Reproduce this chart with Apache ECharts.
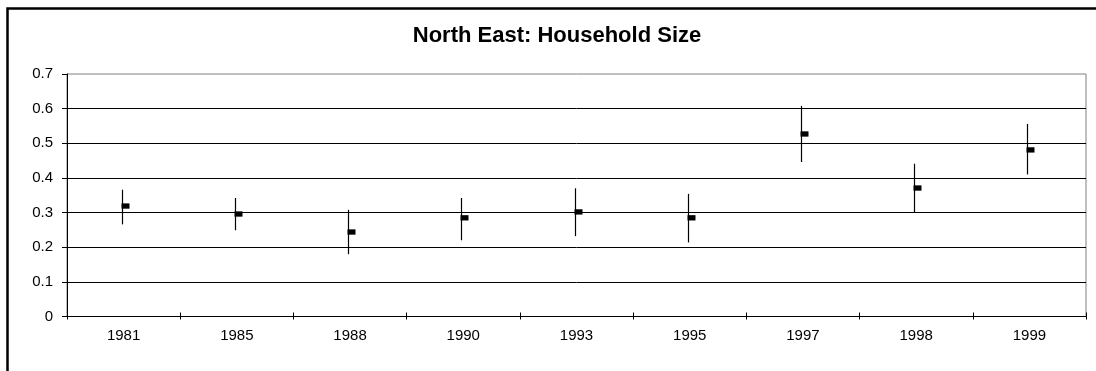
<!DOCTYPE html>
<html>
<head>
<meta charset="utf-8">
<script src="https://cdn.jsdelivr.net/npm/echarts@6/dist/echarts.min.js"></script>
<style>
  html, body { margin: 0; padding: 0; background: #fff; }
  #chart { width: 1096px; height: 371px; }
</style>
</head>
<body>
<div id="chart"></div>
<script>
// Household size estimates for the North East: high / low / close per survey year
const years = ['1981', '1985', '1988', '1990', '1993', '1995', '1997', '1998', '1999'];
const highs = [0.366, 0.342, 0.308, 0.342, 0.370, 0.354, 0.608, 0.441, 0.556];
const lows = [0.266, 0.249, 0.180, 0.220, 0.232, 0.214, 0.446, 0.301, 0.410];
const closes = [0.319, 0.296, 0.244, 0.285, 0.302, 0.285, 0.527, 0.371, 0.481];
const yTickLabels = ['0', '0.1', '0.2', '0.3', '0.4', '0.5', '0.6', '0.7'];

const FONT = '"Liberation Sans", Arial, sans-serif';

const chart = echarts.init(document.getElementById('chart'), null, { renderer: 'canvas' });

// High-low stick with a small square close marker
function renderHLC(params, api) {
  const idx = api.value(0);
  const x = Math.round(api.coord([idx, 0])[0]) - 0.5;
  const yHigh = api.coord([idx, api.value(1)])[1];
  const yLow = api.coord([idx, api.value(2)])[1];
  const yClose = api.coord([idx, api.value(3)])[1];
  return {
    type: 'group',
    children: [
      {
        type: 'line',
        shape: { x1: x - 1, y1: yHigh, x2: x - 1, y2: yLow },
        style: { stroke: '#000', lineWidth: 1.2 }
      },
      {
        type: 'rect',
        shape: { x: x - 2, y: yClose - 2.6, width: 8, height: 5.3 },
        style: { fill: '#000' }
      }
    ]
  };
}

const option = {
  animation: false,
  backgroundColor: '#fff',
  graphic: [
    {
      type: 'rect',
      silent: true,
      shape: { x: 7.5, y: 8.5, width: 1200, height: 500 },
      style: { fill: 'none', stroke: '#000', lineWidth: 2.5 }
    },
    {
      type: 'text',
      silent: true,
      x: 557,
      y: 36,
      style: {
        text: 'North East: Household Size',
        font: 'bold 22px ' + FONT,
        fill: '#000',
        textAlign: 'center',
        textVerticalAlign: 'middle'
      }
    }
  ],
  grid: {
    left: 67,
    top: 74,
    right: 10,
    bottom: 54.5,
    show: true,
    borderColor: '#808080',
    borderWidth: 1,
    backgroundColor: 'transparent'
  },
  xAxis: [
    {
      type: 'category',
      data: years,
      position: 'bottom',
      boundaryGap: true,
      axisLine: { show: true, lineStyle: { color: '#000', width: 1 } },
      axisTick: { show: true, interval: 0, length: 3, lineStyle: { color: '#000' } },
      axisLabel: { interval: 0, fontSize: 15, fontFamily: FONT, color: '#000', margin: 12 },
      splitLine: { show: false }
    },
    {
      type: 'category',
      data: years,
      position: 'bottom',
      boundaryGap: true,
      axisLine: { show: false },
      axisTick: { show: true, inside: true, interval: 0, length: 4, lineStyle: { color: '#000' } },
      axisLabel: { show: false },
      splitLine: { show: false }
    }
  ],
  yAxis: {
    type: 'value',
    min: 0,
    max: 0.7,
    interval: 0.1,
    axisLine: { show: true, lineStyle: { color: '#000', width: 1 } },
    axisTick: { show: true, length: 5, lineStyle: { color: '#000' } },
    axisLabel: {
      fontSize: 15,
      fontFamily: FONT,
      color: '#000',
      margin: 14,
      formatter: function (v) { return yTickLabels[Math.round(v * 10)]; }
    },
    splitLine: { show: true, showMaxLine: false, lineStyle: { color: '#000', width: 1 } }
  },
  series: [
    {
      type: 'custom',
      xAxisIndex: 0,
      renderItem: renderHLC,
      encode: { x: 0, y: [1, 2, 3] },
      data: years.map((y, i) => [i, highs[i], lows[i], closes[i]]),
      z: 5
    },
    {
      // keeps the second (inner-tick) axis bound to the grid
      type: 'line',
      xAxisIndex: 1,
      data: [],
      silent: true
    }
  ]
};

chart.setOption(option);
</script>
</body>
</html>
